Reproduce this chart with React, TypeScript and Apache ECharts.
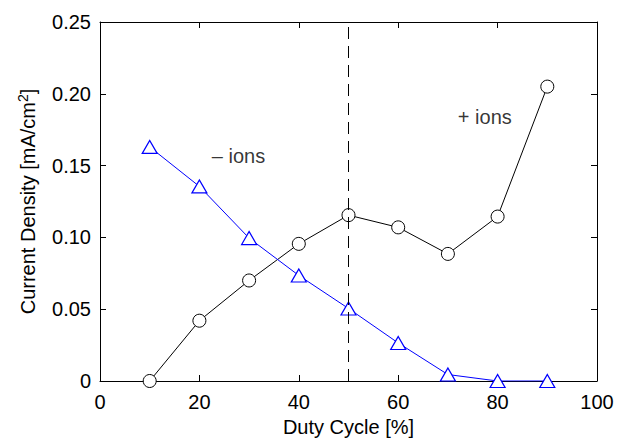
import React, { useEffect, useRef } from "react";
import * as echarts from "echarts";

const dutyCycle = [10, 20, 30, 40, 50, 60, 70, 80, 90];
const positiveIons = [0, 0.042, 0.07, 0.0955, 0.1155, 0.107, 0.0885, 0.1145, 0.205];
const negativeIons = [0.163, 0.1355, 0.0995, 0.0735, 0.0505, 0.0265, 0.0045, 0, 0];
const dashedX = 50;
const yRange = [0, 0.25];
const annotations = [
  { x: 22.5, y: 0.157, text: "\u2013 ions" },
  { x: 72, y: 0.1835, text: "+ ions" },
];

const FONT = "'Liberation Sans', Arial, Helvetica, sans-serif";
const FS = 20;

export default function App() {
  const ref = useRef<HTMLDivElement>(null);
  useEffect(() => {
    if (!ref.current) return;
    const chart = echarts.init(ref.current, null, { renderer: "svg" });
    const baseAxis = {
      axisLine: { show: true, onZero: false, lineStyle: { color: "#000", width: 1 } },
      axisTick: { show: true, inside: true, length: 6, lineStyle: { color: "#000" } },
      splitLine: { show: false },
    };
    chart.setOption({
      animation: false,
      backgroundColor: "#fff",
      textStyle: { fontFamily: FONT },
      grid: { left: 100, right: 20, top: 22, bottom: 65, containLabel: false },
      xAxis: [
        {
          ...baseAxis,
          type: "value",
          position: "bottom",
          min: 0,
          max: 100,
          interval: 20,
          axisLabel: { color: "#000", fontSize: FS, fontFamily: FONT, margin: 11 },
          name: "Duty Cycle [%]",
          nameLocation: "middle",
          nameGap: 34,
          nameTextStyle: { color: "#000", fontSize: FS, fontFamily: FONT },
        },
        {
          ...baseAxis,
          type: "value",
          position: "top",
          min: 0,
          max: 100,
          interval: 20,
          axisLabel: { show: false },
        },
      ],
      yAxis: [
        {
          ...baseAxis,
          type: "value",
          position: "left",
          min: yRange[0],
          max: yRange[1],
          interval: 0.05,
          axisLabel: {
            color: "#000",
            fontSize: FS,
            fontFamily: FONT,
            margin: 9,
            formatter: (v: number) => (v === 0 ? "0" : v.toFixed(2)),
          },
          name: "Current Density [mA/cm{sup|2}]",
          nameLocation: "middle",
          nameGap: 60,
          nameTextStyle: {
            color: "#000",
            fontSize: FS,
            fontFamily: FONT,
            rich: {
              sup: { fontSize: 14, fontFamily: FONT, color: "#000", verticalAlign: "bottom", padding: [0, 0, 10, 0] },
            },
          },
        },
        {
          ...baseAxis,
          type: "value",
          position: "right",
          min: yRange[0],
          max: yRange[1],
          interval: 0.05,
          axisLabel: { show: false },
        },
      ],
      series: [
        {
          type: "line",
          name: "+ ions",
          data: dutyCycle.map((d, i) => [d, positiveIons[i]]),
          symbol: "circle",
          symbolSize: 13,
          showSymbol: true,
          lineStyle: { color: "#000", width: 1 },
          itemStyle: { color: "#fff", borderColor: "#000", borderWidth: 1 },
          z: 2,
        },
        {
          type: "line",
          name: "- ions",
          data: dutyCycle.map((d, i) => [d, negativeIons[i]]),
          symbol: "triangle",
          symbolSize: [15, 13],
          showSymbol: true,
          lineStyle: { color: "#0000ff", width: 1 },
          itemStyle: { color: "#fff", borderColor: "#0000ff", borderWidth: 1.2 },
          z: 2,
        },
        {
          type: "line",
          data: [
            [dashedX, yRange[0]],
            [dashedX, yRange[1]],
          ],
          symbol: "none",
          lineStyle: { color: "#000", width: 1, type: [12, 7] },
          z: 5,
          silent: true,
        },
        {
          type: "scatter",
          data: annotations.map((a) => ({ value: [a.x, a.y], name: a.text })),
          symbolSize: 0,
          label: {
            show: true,
            position: "right",
            distance: 0,
            formatter: (p: any) => p.name,
            color: "#000",
            fontSize: FS,
            fontFamily: FONT,
          },
          z: 6,
          silent: true,
        },
      ],
    });
    return () => chart.dispose();
  }, []);
  return (
    <div
      ref={ref}
      style={{ position: "absolute", left: 0, top: 0, width: 617, height: 446 }}
    />
  );
}
